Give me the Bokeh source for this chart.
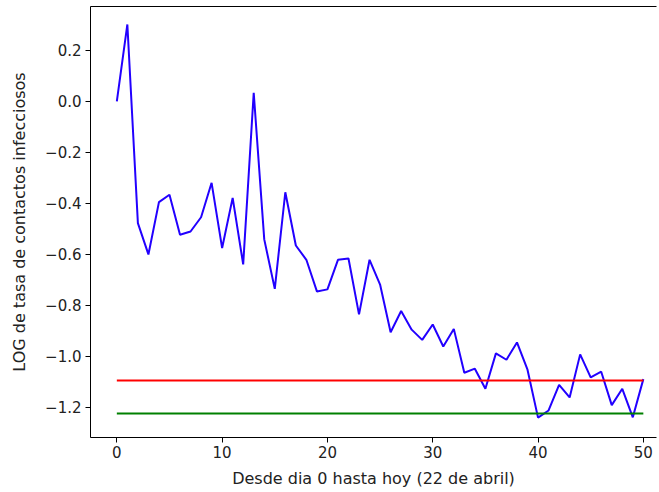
from bokeh.plotting import figure
from bokeh.models import FixedTicker, LinearAxis, Range1d
from bokeh.embed import file_html
from bokeh.resources import INLINE

days = list(range(51))
log_rate = [0.000, 0.302, -0.477, -0.600, -0.395, -0.366, -0.523, -0.510, -0.454, -0.319,
            -0.575, -0.378, -0.639, 0.034, -0.541, -0.735, -0.356, -0.565, -0.621, -0.745,
            -0.737, -0.621, -0.616, -0.835, -0.621, -0.718, -0.905, -0.822, -0.895, -0.935,
            -0.875, -0.961, -0.892, -1.064, -1.048, -1.127, -0.988, -1.013, -0.945, -1.052,
            -1.240, -1.212, -1.112, -1.161, -0.992, -1.082, -1.060, -1.191, -1.127, -1.239,
            -1.089]
red_level = -1.094
green_level = -1.224
ref_x = [0, 50]
x_ticks = [0, 10, 20, 30, 40, 50]
y_ticks = [-1.2, -1.0, -0.8, -0.6, -0.4, -0.2, 0.0, 0.2]
y_labels = ["\u22121.2", "\u22121.0", "\u22120.8", "\u22120.6", "\u22120.4", "\u22120.2", "0.0", "0.2"]

p = figure(width=659, height=492, output_backend="svg", toolbar_location=None,
           x_range=Range1d(-2.5, 51.25), y_range=Range1d(-1.318, 0.3725),
           min_border_left=90, min_border_right=3, min_border_top=6, min_border_bottom=55)
p.outline_line_color = None
p.xgrid.visible = False
p.ygrid.visible = False
p.background_fill_color = "white"
p.border_fill_color = "white"

p.line(days, log_rate, line_color="#2200ff", line_width=2)
p.line(ref_x, [red_level, red_level], line_color="#ff0000", line_width=2)
p.line(ref_x, [green_level, green_level], line_color="#008000", line_width=2)

font = "DejaVu Sans"
for ax in (p.xaxis[0], p.yaxis[0]):
    ax.axis_line_color = "black"
    ax.axis_line_width = 1
    ax.major_tick_in = 0
    ax.major_tick_out = 5
    ax.minor_tick_line_color = None
    ax.major_label_text_font = font
    ax.major_label_text_font_size = "15px"
    ax.major_label_text_color = "#222222"
    ax.axis_label_text_font = font
    ax.axis_label_text_font_size = "16px"
    ax.axis_label_text_font_style = "normal"
    ax.axis_label_text_color = "#222222"

p.xaxis[0].ticker = FixedTicker(ticks=x_ticks)
p.xaxis[0].axis_label = "Desde dia 0 hasta hoy (22 de abril)"
p.xaxis[0].axis_label_standoff = 8
p.xaxis[0].major_label_standoff = 3
p.yaxis[0].ticker = FixedTicker(ticks=y_ticks)
p.yaxis[0].major_label_overrides = {t: l for t, l in zip(y_ticks, y_labels)}
p.yaxis[0].axis_label = "LOG de tasa de contactos infecciosos"
p.yaxis[0].axis_label_standoff = 13
p.yaxis[0].major_label_standoff = 4

top = LinearAxis(ticker=FixedTicker(ticks=[]), major_tick_line_color=None,
                 minor_tick_line_color=None, axis_line_color="black", axis_line_width=1)
p.add_layout(top, "above")

open("out.html", "w").write(file_html(p, INLINE))
